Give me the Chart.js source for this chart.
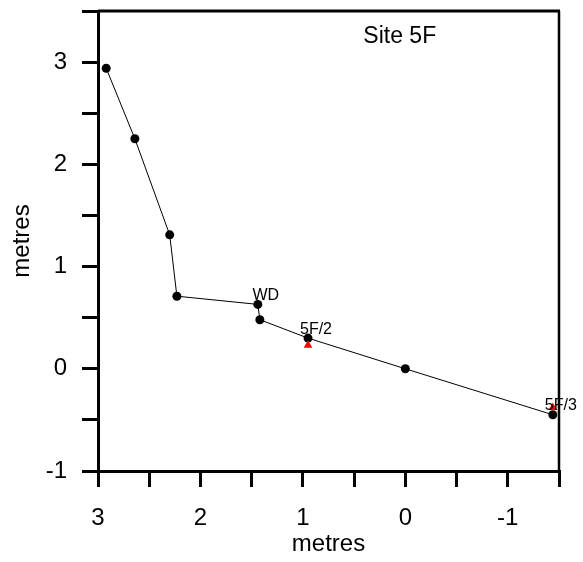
<!DOCTYPE html>
<html>
<head>
<meta charset="utf-8">
<script src="https://cdn.jsdelivr.net/npm/chart.js@4/dist/chart.umd.min.js"></script>
<style>
  html, body { margin: 0; padding: 0; background: #fff; }
  #wrap { width: 583px; height: 562px; }
</style>
</head>
<body>
<div id="wrap"><canvas id="c" width="583" height="562"></canvas></div>
<script>
// profile points (metres), connected in this order
const profilX = [2.92, 2.64, 2.30, 2.23, 1.44, 1.42, 0.95, 0.0, -1.44];
const profilY = [2.94, 2.25, 1.31, 0.71, 0.63, 0.48, 0.30, 0.0, -0.45];
const profilLabel = ["", "", "", "", "WD", "", "5F/2", "", "5F/3"];

// red survey marks
const tandaX = [0.95, -1.44];
const tandaY = [0.23, -0.38];

const judul = "Site 5F";
const font = "'Liberation Sans', Arial, sans-serif";

const titikProfil = profilX.map((x, i) => ({ x, y: profilY[i] }));
const titikTanda = tandaX.map((x, i) => ({ x, y: tandaY[i] }));

const labelPlugin = {
  id: "labelTitik",
  afterDraw(chart) {
    const ctx = chart.ctx;
    const { left, right, top, bottom } = chart.chartArea;
    const sx = chart.scales.x;
    ctx.save();
    // top + right frame
    ctx.strokeStyle = "#000";
    ctx.lineWidth = 3;
    ctx.beginPath();
    ctx.moveTo(left, top);
    ctx.lineTo(right + 1, top);
    ctx.stroke();
    ctx.lineWidth = 2.5;
    ctx.beginPath();
    ctx.moveTo(right, top);
    ctx.lineTo(right, bottom);
    ctx.stroke();

    // point labels
    const meta = chart.getDatasetMeta(0);
    ctx.fillStyle = "#000";
    ctx.font = "16px " + font;
    ctx.textAlign = "center";
    ctx.textBaseline = "middle";
    profilLabel.forEach((t, i) => {
      if (!t) return;
      const p = meta.data[i];
      ctx.fillText(t, p.x + 8, p.y - 9);
    });

    ctx.font = "23px " + font;
    ctx.textAlign = "left";
    ctx.textBaseline = "alphabetic";
    ctx.fillText(judul, sx.getPixelForValue(0.41), top + 32);
    ctx.restore();
  }
};

const tickOpsi = (sisi) => ({
  stepSize: 0.5,
  color: "#000",
  padding: sisi === "y" ? 15 : 17,
  font: { size: 24, family: font },
  maxRotation: 0,
  autoSkip: false,
  callback: (v) => (Number.isInteger(v) ? String(v) : "")
});

new Chart(document.getElementById("c"), {
  type: "scatter",
  data: {
    datasets: [
      {
        data: titikProfil,
        showLine: true,
        borderColor: "#000",
        borderWidth: 1,
        backgroundColor: "#000",
        pointRadius: 4.5,
        pointBorderWidth: 0,
        clip: false,
        order: 2
      },
      {
        data: titikTanda,
        pointStyle: "triangle",
        backgroundColor: "#ff0000",
        borderColor: "#ff0000",
        pointRadius: 5,
        pointBorderWidth: 0,
        clip: false,
        order: 1
      }
    ]
  },
  options: {
    responsive: false,
    animation: false,
    layout: { padding: { top: 11, right: 24, left: 0, bottom: 0 } },
    plugins: { legend: { display: false }, tooltip: { enabled: false } },
    scales: {
      x: {
        type: "linear",
        reverse: true,
        min: -1.5,
        max: 3,
        afterFit: (s) => { s.height = 91; s.paddingLeft = 0; s.paddingRight = 0; },
        border: { display: true, color: "#000", width: 3 },
        grid: { drawOnChartArea: false, drawTicks: true, tickLength: 16, color: "#000", lineWidth: 3 },
        ticks: tickOpsi("x"),
        title: { display: true, text: "metres", color: "#000", font: { size: 24, family: font }, padding: { top: 0, bottom: 3 } }
      },
      y: {
        type: "linear",
        min: -1,
        max: 3.5,
        afterFit: (s) => { s.width = 98; s.paddingTop = 0; s.paddingBottom = 0; },
        border: { display: true, color: "#000", width: 3 },
        grid: { drawOnChartArea: false, drawTicks: true, tickLength: 16, color: "#000", lineWidth: 3 },
        ticks: tickOpsi("y"),
        title: { display: true, text: "metres", color: "#000", font: { size: 24, family: font }, padding: { top: 8, bottom: 0 } }
      }
    }
  },
  plugins: [labelPlugin]
});
</script>
</body>
</html>
